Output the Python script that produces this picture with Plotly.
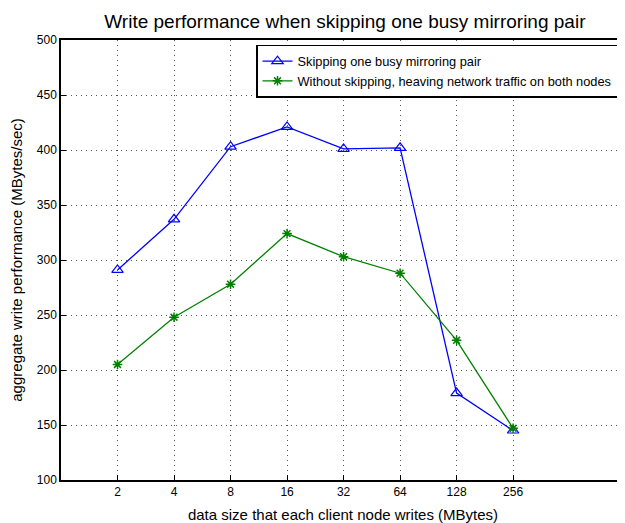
import numpy as np
import plotly.graph_objects as go

sizes = [2, 4, 8, 16, 32, 64, 128, 256]
tick_labels = ["2", "4", "8", "16", "32", "64", "128", "256"]
skipping = [291, 337, 403, 421, 401, 402, 179, 145]
without_skipping = [205, 248, 278, 324, 303, 288, 227, 147]

FONT = "Liberation Sans, Arial, Helvetica, sans-serif"

fig = go.Figure()
fig.add_trace(go.Scatter(
    x=sizes, y=skipping, mode="lines+markers",
    name="Skipping one busy mirroring pair",
    line=dict(color="#0000FF", width=1.3),
    marker=dict(symbol="triangle-up-open", size=10, color="#0000FF",
                line=dict(color="#0000FF", width=1.2)),
))
fig.add_trace(go.Scatter(
    x=sizes, y=without_skipping, mode="lines+markers",
    name="Without skipping, heaving network traffic on both nodes",
    line=dict(color="#008000", width=1.3),
    marker=dict(symbol="asterisk-open", size=8, color="#008000",
                line=dict(color="#008000", width=1.5)),
))

# page body has an 8px default margin, so the figure is 8px smaller
fig.update_layout(
    width=617, height=515,
    margin=dict(l=53, r=0, t=32, b=43, autoexpand=False),
    paper_bgcolor="white", plot_bgcolor="white",
    font=dict(family=FONT, color="black", size=12),
    title=dict(text="Write performance when skipping one busy mirroring pair",
               x=0.546, xanchor="center", y=0.975, yanchor="middle",
               font=dict(size=19, family=FONT)),
    showlegend=True,
    legend=dict(x=0.9876, xanchor="right", y=0.989, yanchor="top",
                bgcolor="white", bordercolor="black", borderwidth=1.5,
                font=dict(size=12.8, family=FONT),
                tracegroupgap=0, itemwidth=30),
)
fig.update_xaxes(
    type="log", range=[0, np.log10(2) * 9.98],
    tickvals=sizes, ticktext=tick_labels,
    ticks="inside", ticklen=5, tickcolor="black",
    showline=True, linecolor="black", linewidth=1.5, mirror=True,
    showgrid=True, gridcolor="#555", griddash="1px,4px", gridwidth=1,
    zeroline=False, automargin=False,
    title=dict(text="data size that each client node writes (MBytes)",
               font=dict(size=15, family=FONT), standoff=13),
    tickfont=dict(size=12),
)
fig.update_yaxes(
    range=[100, 500], dtick=50,
    ticks="inside", ticklen=5, tickcolor="black",
    showline=True, linecolor="black", linewidth=1.5, mirror=True,
    showgrid=True, gridcolor="#555", griddash="1px,4px", gridwidth=1,
    zeroline=False, automargin=False,
    title=dict(text="aggregate write performance (MBytes/sec)",
               font=dict(size=15, family=FONT), standoff=12),
    tickfont=dict(size=12),
)

fig.write_html("out.html")
